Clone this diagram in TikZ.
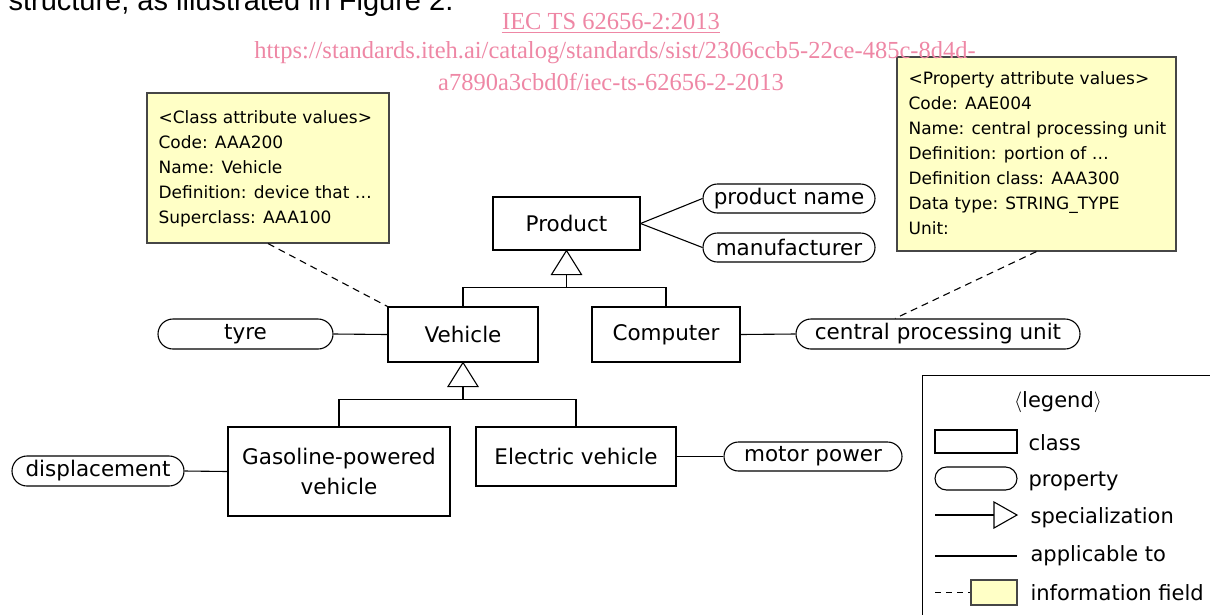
\documentclass[tikz,border=0pt]{standalone}
\usepackage{fontspec}
\setmainfont{DejaVu Sans}
\newfontfamily\stampfont{Liberation Serif}
\newfontfamily\introfont{Liberation Sans}
\usetikzlibrary{shapes.misc,calc}

\definecolor{notefill}{RGB}{255,255,198}
\definecolor{noteedge}{RGB}{70,70,70}
\definecolor{stamp}{RGB}{238,135,165}

\tikzset{
  classbox/.style={draw, rectangle, inner sep=0pt, align=center,
    font=\fontsize{21.5}{30}\selectfont},
  propbox/.style={draw, rounded rectangle, inner sep=0pt,
    font=\fontsize{21.5}{26}\selectfont},
  notebox/.style={draw=noteedge, fill=notefill, rectangle, inner sep=0pt},
  notetext/.style={anchor=base west, inner sep=0pt, font=\fontsize{17}{25}\selectfont},
  infolink/.style={draw, dash pattern=on 7pt off 5pt},
  legtext/.style={anchor=base west, inner sep=0pt, font=\fontsize{21}{25}\selectfont},
  spectri/.style={draw, fill=white, line join=miter},
  stamptext/.style={anchor=base, inner sep=0pt, text=stamp,
    font=\stampfont\fontsize{24.5}{30}\selectfont},
}

\begin{document}
\begin{tikzpicture}[x=1pt, y=-1pt, line width=1.1pt]
\useasboundingbox (0,0) rectangle (1210,614);

% running text above the figure
\node[anchor=base west, inner sep=0pt, font=\introfont\fontsize{29}{34}\selectfont]
  (intro) at (8,10) {structure, as illustrated in Figure 2.};

% information fields
\node[notebox, minimum width=242pt, minimum height=150pt] (info1) at (268,168) {};
\foreach \t [count=\i from 0] in {{<Class attribute values>},{Code: AAA200},
    {Name: Vehicle},{Definition: device that …},{Superclass: AAA100}}
  \node[notetext] (info1l\i) at (158,{123+25*\i}) {\t};

\node[notebox, minimum width=279pt, minimum height=194pt] (info2) at (1036.5,154) {};
\foreach \t [count=\i from 0] in {{<Property attribute values>},{Code: AAE004},
    {Name: central processing unit},{Definition: portion of …},
    {Definition class: AAA300},{Data type: STRING\_TYPE},{Unit:}}
  \node[notetext] (info2l\i) at (908,{84+25*\i}) {\t};

% classes
\node[classbox, minimum width=147pt, minimum height=53pt] (product) at (566.5,223.5) {Product};
\node[classbox, minimum width=150pt, minimum height=55pt] (vehicle) at (463,334.5) {Vehicle};
\node[classbox, minimum width=148pt, minimum height=55pt] (computer) at (666,334.5) {Computer};
\node[classbox, minimum width=222pt, minimum height=89pt] (gasoline) at (339,471.5) {Gasoline-powered\\vehicle};
\node[classbox, minimum width=200pt, minimum height=59pt] (electric) at (576,456.5) {Electric vehicle};

% properties
\node[propbox, minimum width=172pt, minimum height=29pt] (pname) at (789,198.5) {product name};
\node[propbox, minimum width=172pt, minimum height=29pt] (manuf) at (789,247.5) {manufacturer};
\node[propbox, minimum width=175pt, minimum height=30pt] (tyre) at (245.5,334) {tyre};
\node[propbox, minimum width=284pt, minimum height=30pt] (cpu) at (938,334) {central processing unit};
\node[propbox, minimum width=172pt, minimum height=30pt] (disp) at (98,471) {displacement};
\node[propbox, minimum width=178pt, minimum height=29pt] (motor) at (813,456.5) {motor power};

% applicable-to links
\draw (product.east) -- (pname.west);
\draw (product.east) -- (manuf.west);
\draw (tyre.east) -- (vehicle.west);
\draw (computer.east) -- (cpu.west);
\draw (disp.east) -- (gasoline.west);
\draw (electric.east) -- (motor.west);

% specialization: Product -> Vehicle, Computer
\draw[spectri] (product.south) -- ++(15,24) -- ++(-30,0) -- cycle;
\coordinate (pbase) at ($(product.south)+(0,24)$);
\coordinate (pbar) at ($(pbase)+(0,13)$);
\draw (pbase) -- (pbar);
\draw (vehicle.north) |- (pbar) -| (computer.north);

% specialization: Vehicle -> Gasoline-powered, Electric
\draw[spectri] (vehicle.south) -- ++(15,24) -- ++(-30,0) -- cycle;
\coordinate (vbase) at ($(vehicle.south)+(0,24)$);
\coordinate (vbar) at ($(vbase)+(0,13)$);
\draw (vbase) -- (vbar);
\draw (gasoline.north) |- (vbar) -| (electric.north);

% information field links
\draw[infolink] (info1.south) -- (vehicle.north west);
\coordinate (cputop) at ([xshift=-43pt]cpu.north);
\draw[infolink] (info2.south) -- (cputop);

% legend
\node[draw, anchor=north west, inner sep=0pt, minimum width=330pt, minimum height=290pt]
  (legend) at (921.5,375) {};
\node[anchor=base, inner sep=0pt, font=\fontsize{21}{25}\selectfont] (legtitle) at (1058,407)
  {$\langle$legend$\rangle$};
\node[draw, rectangle, inner sep=0pt, minimum width=82pt, minimum height=23pt] (legclass) at (976,441.5) {};
\node[legtext] (legclasst) at (1028,450) {class};
\node[draw, rounded rectangle, inner sep=0pt, minimum width=82pt, minimum height=23pt] (legprop) at (976,478.5) {};
\node[legtext] (legpropt) at (1028,486) {property};
\coordinate (legs1) at (935,515);
\coordinate (legs2) at (994,515);
\draw (legs1) -- (legs2);
\draw[spectri] (994,502) -- (1017,515) -- (994,528) -- cycle;
\node[legtext] (legspect) at (1030,523) {specialization};
\coordinate (lega1) at (935,556);
\coordinate (lega2) at (1017,556);
\draw (lega1) -- (lega2);
\node[legtext] (legappt) at (1030,561) {applicable to};
\node[notebox, minimum width=46pt, minimum height=25pt] (legnote) at (994,592.5) {};
\coordinate (legi1) at (935,592.5);
\draw[dash pattern=on 6pt off 5pt] (legi1) -- (legnote.west);
\node[legtext] (leginfot) at (1030,600) {information field};

% catalogue stamp
\node[stamptext] (stamp1) at (611,29) {IEC TS 62656-2:2013};
\draw[stamp, line width=1pt] ([yshift=-3pt]stamp1.base west) -- ([yshift=-3pt]stamp1.base east);
\node[stamptext] (stamp2) at (615,58) {https://standards.iteh.ai/catalog/standards/sist/2306ccb5-22ce-485c-8d4d-};
\node[stamptext] (stamp3) at (611,90) {a7890a3cbd0f/iec-ts-62656-2-2013};
\end{tikzpicture}
\end{document}
